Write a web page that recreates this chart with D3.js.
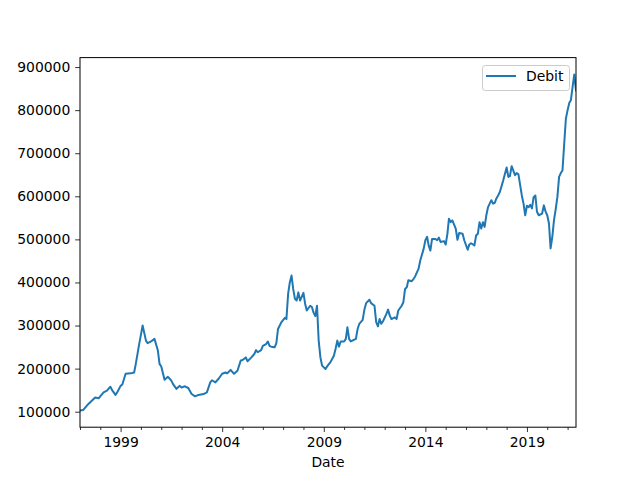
<!DOCTYPE html>
<html>
<head>
<meta charset="utf-8">
<script src="https://cdn.jsdelivr.net/npm/d3@7"></script>
<style>
  html, body { margin: 0; padding: 0; background: #ffffff; }
  svg { display: block; }
  text { font-family: "DejaVu Sans", sans-serif; fill: #000; }
</style>
</head>
<body>
<script>
// ---- Data ----
const seriesName = "Debit";
const xLabel = "Date";

const months = [
  "1997-01","1997-03","1997-06","1997-08","1997-10","1997-12",
  "1998-03","1998-05","1998-07","1998-08","1998-10","1998-11",
  "1999-01","1999-02","1999-04","1999-07","1999-09","1999-10","1999-12",
  "2000-02","2000-04","2000-05","2000-07","2000-09","2000-11","2000-12",
  "2001-01","2001-03","2001-05","2001-07","2001-08","2001-10","2001-12",
  "2002-01","2002-03","2002-05","2002-07","2002-09","2002-11",
  "2003-02","2003-04","2003-06","2003-07","2003-09","2003-11",
  "2004-01","2004-03","2004-04","2004-06","2004-08","2004-10","2004-12",
  "2005-01","2005-03","2005-04","2005-06","2005-08","2005-09","2005-10","2005-12",
  "2006-01","2006-03","2006-04","2006-05","2006-06","2006-08","2006-09","2006-10","2006-12",
  "2007-02","2007-03","2007-04","2007-05","2007-06","2007-07","2007-08","2007-09","2007-10","2007-11",
  "2008-01","2008-02","2008-03","2008-05","2008-06","2008-07","2008-08","2008-09","2008-10","2008-11","2008-12",
  "2009-02","2009-03","2009-05","2009-07","2009-08","2009-09","2009-10","2009-11",
  "2010-01","2010-02","2010-03","2010-04","2010-05","2010-08","2010-09","2010-10","2010-12",
  "2011-01","2011-02","2011-04","2011-05","2011-07","2011-08","2011-09","2011-10","2011-11","2011-12",
  "2012-02","2012-03","2012-04","2012-05","2012-07","2012-08","2012-09","2012-11","2012-12",
  "2013-01","2013-02","2013-03","2013-05","2013-06","2013-07","2013-09","2013-10","2013-12",
  "2014-01","2014-02","2014-03","2014-04","2014-05","2014-07","2014-08","2014-09","2014-10","2014-12",
  "2015-01","2015-02","2015-03","2015-04","2015-05","2015-07","2015-08","2015-09","2015-11","2015-12",
  "2016-02","2016-03","2016-04","2016-06","2016-07","2016-08","2016-09","2016-10","2016-11","2016-12",
  "2017-01","2017-02","2017-04","2017-05","2017-06","2017-07","2017-08","2017-09","2017-11",
  "2018-01","2018-02","2018-03","2018-04","2018-06","2018-07","2018-08","2018-10","2018-11","2018-12",
  "2019-01","2019-02","2019-03","2019-04","2019-05","2019-06","2019-07","2019-08","2019-10","2019-11","2019-12",
  "2020-01","2020-02","2020-03","2020-04","2020-05","2020-06","2020-07","2020-08","2020-09","2020-10","2020-11","2020-12",
  "2021-01","2021-02","2021-03","2021-04","2021-05","2021-06"
];

const debit = [
  103000,104000,118000,125600,133000,131000,
  145000,149000,158000,150000,139000,145000,
  160000,163000,188000,189000,191000,211000,257000,
  300000,265000,259000,263000,269000,242000,211000,
  205000,174000,181000,172000,164000,153000,160000,
  156000,159000,155000,141000,135600,139000,
  141000,145000,168000,173000,168000,177000,
  188000,191000,189000,197000,188000,195000,219000,
  220000,226000,217000,225000,234000,243000,238000,243000,
  253000,257000,263000,253000,251000,249500,259000,292000,308000,
  318000,315000,374000,400000,416000,385000,362000,358000,377000,358000,
  376000,350000,335000,346000,343000,330000,322000,346000,265000,226000,207000,
  199000,205000,215000,230000,246000,265000,251000,263000,
  263000,269000,296000,269000,263000,269000,292000,304000,313000,
  337000,352000,360000,352000,346000,308000,298000,315000,304000,310000,
  327000,337000,323000,315000,319000,315000,335000,346000,354000,
  385000,389000,405000,403000,408000,414000,432000,451000,478000,
  498000,506000,486000,474000,501000,501000,498000,504000,494000,496000,
  488000,513000,548000,540000,544000,525000,499000,515000,513000,498000,
  476000,488000,491000,486000,509000,513000,540000,525000,540000,529000,
  556000,575000,591000,583000,585000,595000,602000,610000,637000,
  667000,645000,647000,670000,649000,654000,651000,602000,583000,556000,
  578000,575000,580000,572000,598000,602000,564000,556000,560000,579000,565000,
  556000,537000,479000,506000,544000,570000,598000,645000,654000,660000,722000,780000,
  800000,817000,823000,854000,883000,846000
];

const xMajorYears = [1999, 2004, 2009, 2014, 2019];
const yTicks = [100000, 200000, 300000, 400000, 500000, 600000, 700000, 800000, 900000];

// ---- Layout (matplotlib default figure geometry) ----
const W = 640, H = 480;
const plotL = 80, plotR = 576, plotT = 57.6, plotB = 427.2;
const fontPx = 13.9;
const color = "#1f77b4";

const parse = d3.timeParse("%Y-%m");
const data = months.map((m, i) => ({ date: parse(m), value: debit[i] }));

const svg = d3.select("body").append("svg")
  .attr("width", W).attr("height", H);

const x = d3.scaleTime()
  .domain(d3.extent(data, d => d.date))
  .range([plotL, plotR]);

const vMin = d3.min(debit), vMax = d3.max(debit);
const pad = (vMax - vMin) * 0.05;
const y = d3.scaleLinear()
  .domain([vMin - pad, vMax + pad])
  .range([plotB, plotT]);

// line
svg.append("clipPath").attr("id", "plotclip")
  .append("rect").attr("x", plotL).attr("y", plotT)
  .attr("width", plotR - plotL).attr("height", plotB - plotT);

svg.append("path")
  .datum(data)
  .attr("clip-path", "url(#plotclip)")
  .attr("fill", "none")
  .attr("stroke", color)
  .attr("stroke-width", 2)
  .attr("stroke-linejoin", "round")
  .attr("stroke-linecap", "square")
  .attr("d", d3.line().x(d => x(d.date)).y(d => y(d.value)));

// x axis (major + minor)
const majorDates = xMajorYears.map(yr => new Date(yr, 0, 1));
const [d0, d1] = x.domain();
const minorDates = d3.timeYear.range(d3.timeYear.ceil(d0), d1)
  .filter(d => !xMajorYears.includes(d.getFullYear()));

const xMajor = d3.axisBottom(x).tickValues(majorDates)
  .tickFormat(d3.timeFormat("%Y")).tickSizeInner(4.86).tickSizeOuter(0).tickPadding(4.86);
const xMinor = d3.axisBottom(x).tickValues(minorDates)
  .tickFormat("").tickSizeInner(2.78).tickSizeOuter(0);

const gxMinor = svg.append("g").attr("transform", `translate(0,${plotB})`).call(xMinor);
const gx = svg.append("g").attr("transform", `translate(0,${plotB})`).call(xMajor);
[gx, gxMinor].forEach(g => {
  g.select(".domain").remove();
  g.selectAll("line").attr("stroke", "#000").attr("stroke-width", 0.8);
});
gx.selectAll("text")
  .attr("font-family", "DejaVu Sans, sans-serif")
  .attr("font-size", fontPx).attr("fill", "#000");

// y axis
const gy = svg.append("g").attr("transform", `translate(${plotL},0)`)
  .call(d3.axisLeft(y).tickValues(yTicks).tickFormat(d3.format("d"))
    .tickSizeInner(4.86).tickSizeOuter(0).tickPadding(4.86));
gy.select(".domain").remove();
gy.selectAll("line").attr("stroke", "#000").attr("stroke-width", 0.8);
gy.selectAll("text")
  .attr("font-family", "DejaVu Sans, sans-serif")
  .attr("font-size", fontPx).attr("fill", "#000");

// spines
svg.append("rect")
  .attr("x", plotL).attr("y", plotT)
  .attr("width", plotR - plotL).attr("height", plotB - plotT)
  .attr("fill", "none").attr("stroke", "#000").attr("stroke-width", 1);

// x label
svg.append("text")
  .attr("x", (plotL + plotR) / 2).attr("y", 467)
  .attr("text-anchor", "middle")
  .attr("font-size", fontPx)
  .text(xLabel);

// legend
const lg = svg.append("g");
lg.append("rect")
  .attr("x", 482.5).attr("y", 65.5).attr("width", 87).attr("height", 25)
  .attr("rx", 2.8).attr("ry", 2.8)
  .attr("fill", "#fff").attr("fill-opacity", 0.8)
  .attr("stroke", "#cccccc").attr("stroke-width", 1);
lg.append("line")
  .attr("x1", 486).attr("x2", 516).attr("y1", 76).attr("y2", 76)
  .attr("stroke", color).attr("stroke-width", 2);
lg.append("text")
  .attr("x", 526).attr("y", 81)
  .attr("font-size", fontPx)
  .text(seriesName);
</script>
</body>
</html>
